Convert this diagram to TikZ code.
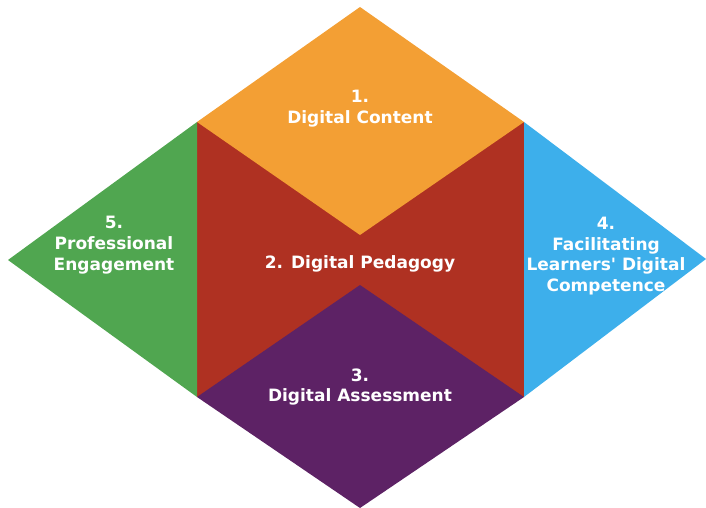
\documentclass[tikz,border=0pt]{standalone}
\usepackage{fontspec}
\setmainfont{DejaVu Sans}[Ligatures=TeXOff]
\begin{document}
\begin{tikzpicture}[x=1pt,y=-1pt,
  lbl/.style={text=white,align=center,font=\bfseries\fontsize{17}{20.8}\selectfont,inner sep=0pt}]
\definecolor{cOrange}{RGB}{243,159,52}
\definecolor{cRed}{RGB}{175,49,34}
\definecolor{cGreen}{RGB}{80,166,80}
\definecolor{cBlue}{RGB}{61,175,235}
\definecolor{cPurple}{RGB}{93,34,101}
\useasboundingbox (0,0) rectangle (706,508);
\coordinate (T) at (360,7);
\coordinate (L) at (8,260);
\coordinate (R) at (706,259);
\coordinate (B) at (360,508);
\coordinate (a) at (197,122);
\coordinate (b) at (524,122);
\coordinate (c) at (197,397);
\coordinate (d) at (524,397);
\coordinate (oc) at (360,235);
\coordinate (pt) at (360,285);
\fill[cRed] (a) rectangle (d);
\fill[cOrange] (T) -- (b) -- (oc) -- (a) -- cycle;
\fill[cPurple] (pt) -- (d) -- (B) -- (c) -- cycle;
\fill[cGreen] (a) -- (L) -- (c) -- cycle;
\fill[cBlue] (b) -- (R) -- (d) -- cycle;
\node[lbl] (n1) at (360,109) {1.\\Digital Content};
\node[lbl] (n2) at (360,264) {2. Digital Pedagogy};
\node[lbl] (n3) at (360,387) {3.\\Digital Assessment};
\node[lbl] (n4) at (606,256) {4.\\Facilitating\\Learners' Digital\\Competence};
\node[lbl] (n5) at (114,245) {5.\\Professional\\Engagement};
\end{tikzpicture}
\end{document}
